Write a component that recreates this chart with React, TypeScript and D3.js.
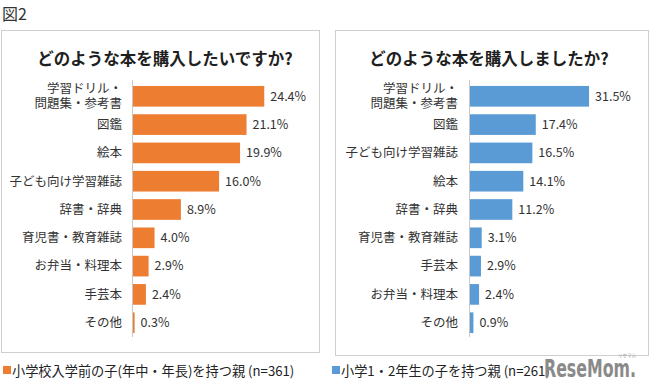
import React from "react";
import * as d3 from "d3";

const figureLabel = "図2";
const leftTitle = "どのような本を購入したいですか?";
const rightTitle = "どのような本を購入しましたか?";
const leftCategories = ["学習ドリル・\n問題集・参考書", "図鑑", "絵本", "子ども向け学習雑誌", "辞書・辞典", "育児書・教育雑誌", "お弁当・料理本", "手芸本", "その他"];
const leftValues = [24.4, 21.1, 19.9, 16.0, 8.9, 4.0, 2.9, 2.4, 0.3];
const rightCategories = ["学習ドリル・\n問題集・参考書", "図鑑", "子ども向け学習雑誌", "絵本", "辞書・辞典", "育児書・教育雑誌", "手芸本", "お弁当・料理本", "その他"];
const rightValues = [31.5, 17.4, 16.5, 14.1, 11.2, 3.1, 2.9, 2.4, 0.9];
const leftLegend = "小学校入学前の子(年中・年長)を持つ親 (n=361)";
const rightLegend = "小学1・2年生の子を持つ親 (n=261)";

const FONT = "'Noto Sans CJK JP', 'Noto Sans', sans-serif";

type PanelProps = {
  box: [number, number, number, number];
  title: string;
  titleX: number;
  categories: string[];
  values: number[];
  axisX: number;
  pxPerUnit: number;
  color: string;
  labelX: number;
};

function Panel({ box, title, titleX, categories, values, axisX, pxPerUnit, color, labelX }: PanelProps) {
  const x = d3.scaleLinear().domain([0, 40]).range([axisX, axisX + 40 * pxPerUnit]);
  const y = d3.scaleBand<string>().domain(categories).range([82, 337]).paddingInner(0.27).paddingOuter(0.14);
  const bw = y.bandwidth();
  return (
    <g>
      <rect x={box[0]} y={box[1]} width={box[2] - box[0]} height={box[3] - box[1]} fill="#fff" stroke="#cfcfcf" strokeWidth={1} />
      <text x={titleX} y={65} textAnchor="middle" fontSize={16.5} fontWeight="bold" fill="#1f1f1f" fontFamily={FONT}>{title}</text>
      <line x1={axisX + 0.5} x2={axisX + 0.5} y1={80} y2={337} stroke="#c8c8c8" strokeWidth={1} />
      {categories.map((c, i) => {
        const y0 = y(c)!;
        const lines = c.split("\n");
        const cy = y0 + bw / 2;
        return (
          <g key={c}>
            <rect x={x(0) + 1} y={y0} width={x(values[i]) - x(0)} height={bw} fill={color} />
            <text x={x(values[i]) + 7} y={cy} dy="0.35em" fontSize={12.5} fill="#333" fontFamily={FONT}>{values[i].toFixed(1)}%</text>
            {lines.map((l, j) => (
              <text key={j} x={labelX} y={cy + (j - (lines.length - 1) / 2) * 14.5} dy="0.35em" textAnchor="end" fontSize={12.5} fill="#333" fontFamily={FONT}>{l}</text>
            ))}
          </g>
        );
      })}
    </g>
  );
}

export default function App() {
  return (
    <svg width={650} height={390} style={{ position: "absolute", left: 0, top: 0, background: "#fff" }}>
      <rect x={0} y={0} width={650} height={390} fill="#fff" />
      <text x={2} y={20} fontSize={16} fill="#333" fontFamily={FONT}>{figureLabel}</text>
      <Panel box={[1.5, 30.5, 319.5, 352.5]} title={leftTitle} titleX={165} categories={leftCategories} values={leftValues} axisX={132} pxPerUnit={5.38} color="#ED7D31" labelX={122} />
      <Panel box={[335.5, 30.5, 648.5, 355.5]} title={rightTitle} titleX={489} categories={rightCategories} values={rightValues} axisX={469} pxPerUnit={3.78} color="#5B9BD5" labelX={458} />
      <rect x={3} y={366} width={8} height={8} fill="#ED7D31" />
      <text x={12} y={371} dy="0.35em" fontSize={13.2} fill="#222" fontFamily={FONT}>{leftLegend}</text>
      <rect x={332} y={366} width={8} height={8} fill="#5B9BD5" />
      <text x={341} y={371} dy="0.35em" fontSize={13.2} fill="#222" fontFamily={FONT}>{rightLegend}</text>
      <text x={544} y={377} fontSize={24} fontWeight="bold" fill="#8a8a8a" fontFamily="'Liberation Sans Narrow', 'DejaVu Sans Condensed', sans-serif" textLength={92} lengthAdjust="spacingAndGlyphs">ReseMom.</text>
      <text x={618} y={357} fontSize={4.5} fill="#999" fontFamily={FONT}>リセマム</text>
    </svg>
  );
}
